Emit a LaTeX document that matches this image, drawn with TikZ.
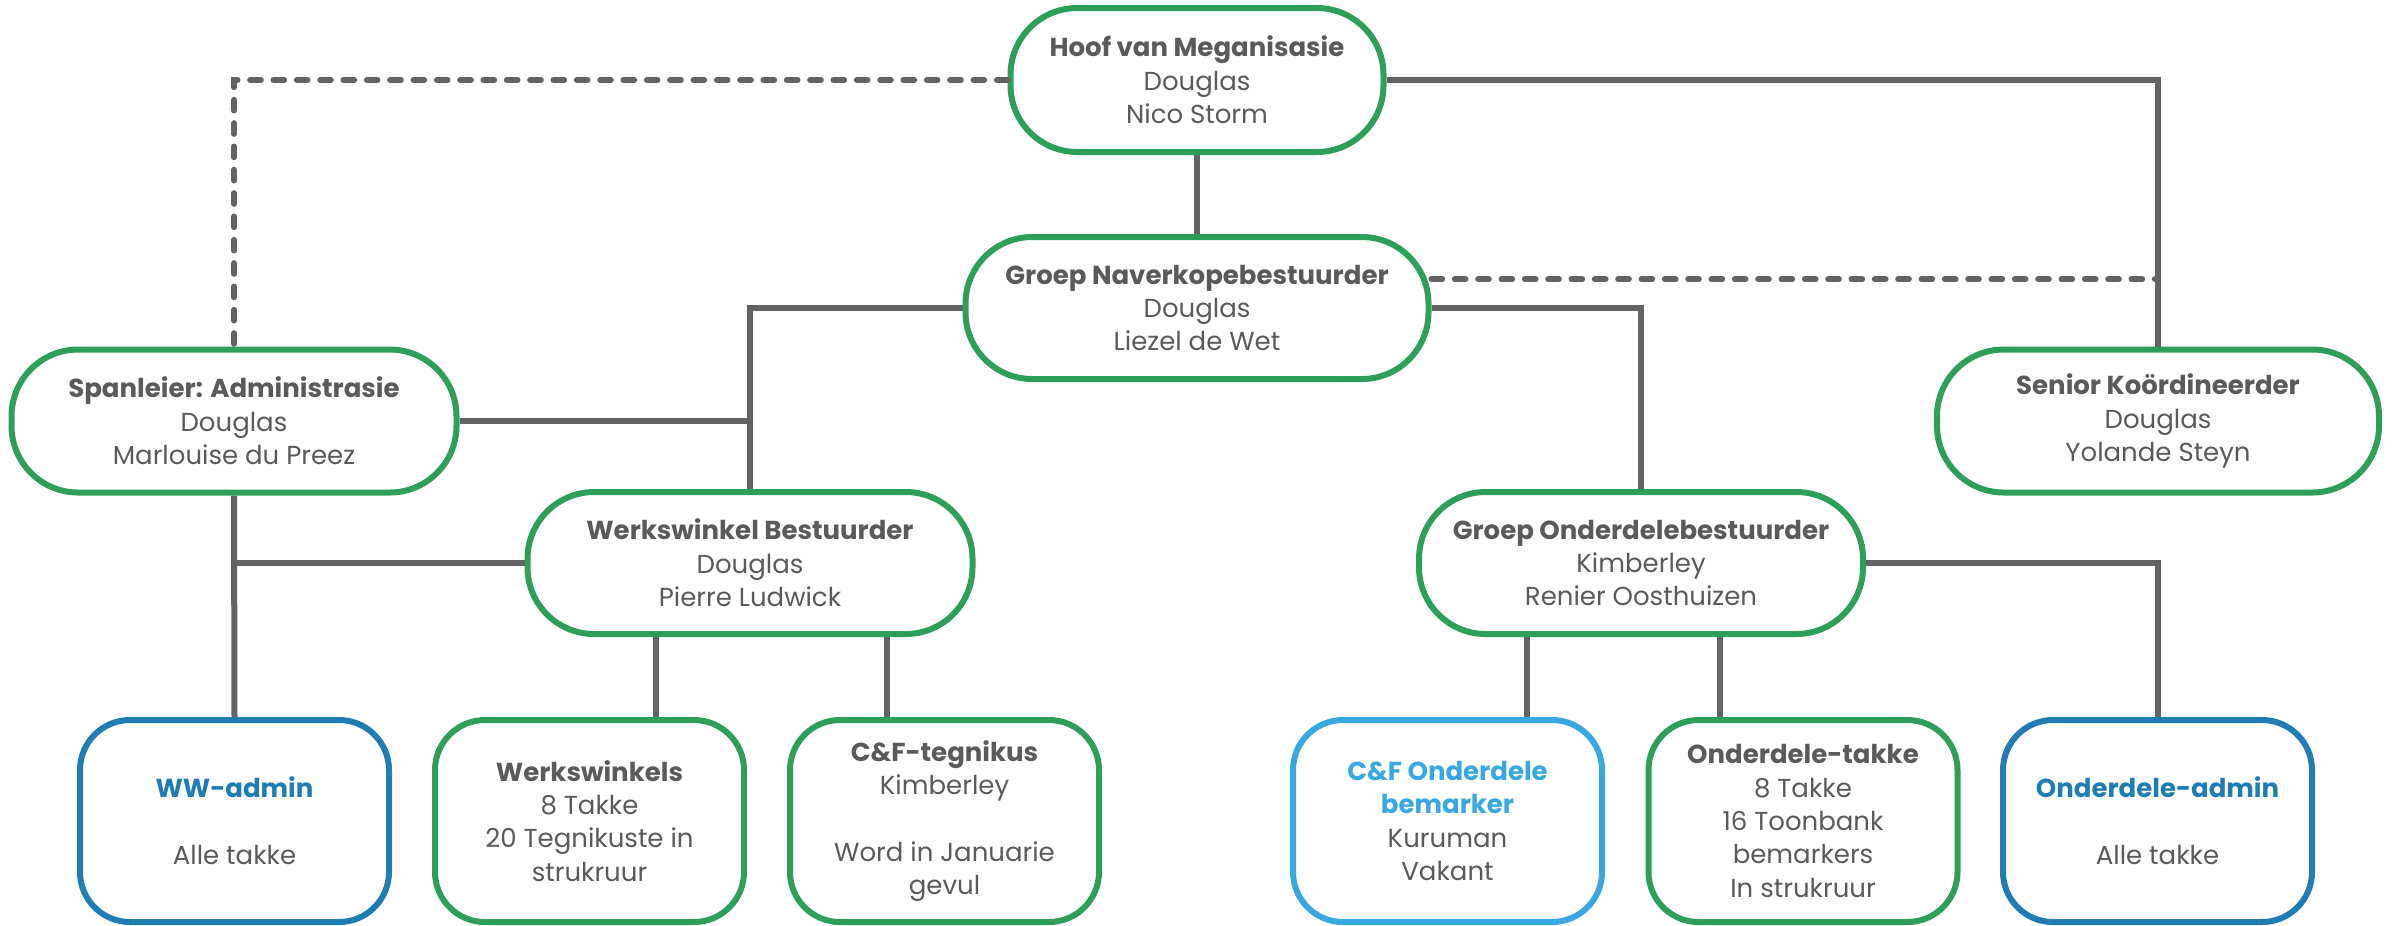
\documentclass[tikz,border=0pt]{standalone}
\usepackage{fontspec}
\setmainfont{Poppins}
\usetikzlibrary{calc}
\definecolor{grn}{HTML}{2E9F5B}
\definecolor{dblue}{HTML}{1F7DB4}
\definecolor{lblue}{HTML}{3AA8E0}
\definecolor{txt}{HTML}{5A5A5A}
\definecolor{ln}{HTML}{636363}
\begin{document}
\begin{tikzpicture}[x=0.3pt,y=-0.3pt,
  box/.style={draw=grn, line width=1.8pt, align=center, inner sep=0pt, text=txt,
    font=\fontsize{7.8}{10}\selectfont, fill=white},
  bigbox/.style={box, rounded corners=20pt, minimum width=133.5pt, minimum height=42.9pt},
  smallbox/.style={box, rounded corners=15pt, minimum width=92.7pt, minimum height=60.6pt},
  conn/.style={draw=ln, line width=1.8pt},
  dconn/.style={draw=ln, line width=1.8pt, line cap=round, dash pattern=on 3.2pt off 3.8pt},
  ]
\useasboundingbox (0,0) rectangle (2397,925);

\node[bigbox, minimum width=111.9pt, minimum height=43.2pt] (hoof) at (1197,80)
  {\textbf{Hoof van Meganisasie}\\Douglas\\Nico Storm};
\node[bigbox, minimum width=138.9pt, minimum height=42.6pt] (nav) at (1197,308)
  {\textbf{Groep Naverkopebestuurder}\\Douglas\\Liezel de Wet};
\node[bigbox] (span) at (234,421)
  {\textbf{Spanleier: Administrasie}\\Douglas\\Marlouise du Preez};
\node[bigbox, minimum width=132.6pt] (senior) at (2158,421)
  {\textbf{Senior Koördineerder}\\Douglas\\Yolande Steyn};
\node[bigbox, minimum height=42.6pt] (wb) at (750,563)
  {\textbf{Werkswinkel Bestuurder}\\Douglas\\Pierre Ludwick};
\node[bigbox, minimum width=133.2pt, minimum height=42.6pt] (go) at (1641,563)
  {\textbf{Groep Onderdelebestuurder}\\Kimberley\\Renier Oosthuizen};

\node[smallbox, draw=dblue] (wwa) at (234.5,821)
  {\textcolor{dblue}{\textbf{WW-admin}}\\[10pt]Alle takke};
\node[smallbox] (werks) at (589.5,821)
  {\textbf{Werkswinkels}\\8 Takke\\20 Tegnikuste in\\strukruur};
\node[smallbox] (cft) at (944.5,821)
  {\textbf{C\&F-tegnikus}\\Kimberley\\[10pt]Word in Januarie\\gevul};
\node[smallbox, draw=lblue] (cfo) at (1447.5,821)
  {\textcolor{lblue}{\textbf{C\&F Onderdele}}\\\textcolor{lblue}{\textbf{bemarker}}\\Kuruman\\Vakant};
\node[smallbox] (ot) at (1803,821)
  {\textbf{Onderdele-takke}\\8 Takke\\16 Toonbank\\bemarkers\\In strukruur};
\node[smallbox, draw=dblue] (oa) at (2157.5,821)
  {\textcolor{dblue}{\textbf{Onderdele-admin}}\\[10pt]Alle takke};

\draw[conn] (hoof.south) -- (nav.north);
\draw[conn] (hoof.east) -| (senior.north);
\draw[dconn] (hoof.west) -| (span.north);
\draw[dconn] (nav.7) -- (nav.7 -| senior.north);
\draw[conn] (nav.west) -| (wb.north);
\draw[conn] (nav.east) -| (go.north);
\draw[conn] (span.east) -- (span.east -| wb.north);
\draw[conn] (span.south) -- (wwa.north);
\draw[conn] (wb.west) -- (wb.west -| span.south);
\draw[conn] ([xshift=20pt]werks.north) -- ([xshift=20pt]werks.north |- wb.south);
\draw[conn] ([xshift=-17.25pt]cft.north) -- ([xshift=-17.25pt]cft.north |- wb.south);
\draw[conn] ([xshift=23.85pt]cfo.north) -- ([xshift=23.85pt]cfo.north |- go.south);
\draw[conn] ([xshift=-24.9pt]ot.north) -- ([xshift=-24.9pt]ot.north |- go.south);
\draw[conn] (go.east) -| (oa.north);
\end{tikzpicture}
\end{document}
